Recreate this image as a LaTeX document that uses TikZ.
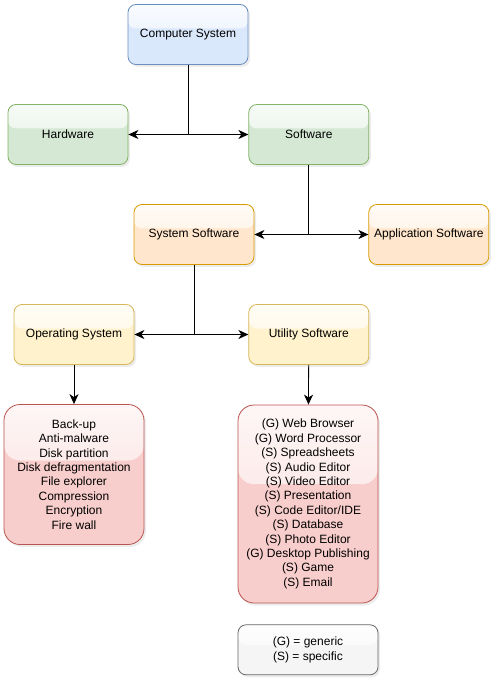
\documentclass[tikz,border=0pt]{standalone}
\usepackage{fontspec}
\setmainfont{Liberation Sans}
\usetikzlibrary{positioning,calc,shadows,arrows.meta}

\definecolor{blueFill}{HTML}{DAE8FC}\definecolor{blueLine}{HTML}{6C8EBF}
\definecolor{greenFill}{HTML}{D5E8D4}\definecolor{greenLine}{HTML}{82B366}
\definecolor{orangeFill}{HTML}{FFE6CC}\definecolor{orangeLine}{HTML}{D79B00}
\definecolor{yellowFill}{HTML}{FFF2CC}\definecolor{yellowLine}{HTML}{D6B656}
\definecolor{redFill}{HTML}{F8CECC}\definecolor{redLine}{HTML}{B85450}
\definecolor{greyFill}{HTML}{F5F5F5}\definecolor{greyLine}{HTML}{666666}

\tikzset{
    box/.style={rectangle, rounded corners=8pt, draw=#1Line, fill=#1Fill, line width=0.8pt,
        minimum width=120pt, minimum height=60pt, align=center,
        font=\fontsize{12pt}{14.4pt}\selectfont,
        drop shadow={opacity=0.15, shadow xshift=2pt, shadow yshift=-2.5pt},
        path picture={\shade[top color=#1Fill!18!white, bottom color=#1Fill!72!white]
            (path picture bounding box.north west) rectangle
            ($(path picture bounding box.north east)!0.4!(path picture bounding box.south east)$);}},
    list/.style={box=#1, rounded corners=16pt, minimum width=140pt},
    conn/.style={-{Stealth[length=10pt,width=9pt,inset=3pt]}, line width=0.8pt}
}

\begin{document}
\begin{tikzpicture}[x=1pt, y=-1pt]
    \useasboundingbox (0,0) rectangle (496,684);

    \node[box=blue] (cs) at (188,34.5) {Computer System};
    \node[box=green] (hw) at (68,134.5) {Hardware};
    \node[box=green, right=120pt of hw] (sw) {Software};
    \node[box=orange] (ss) at (194,234.5) {System Software};
    \node[box=orange, right=114pt of ss] (app) {Application Software};
    \node[box=yellow] (os) at (74,334.5) {Operating System};
    \node[box=yellow, right=114pt of os] (us) {Utility Software};

    \node[list=red, minimum height=140pt] (oslist) at (74,474.5)
        {Back-up\\Anti-malware\\Disk partition\\Disk defragmentation\\File explorer\\Compression\\Encryption\\Fire wall};
    \node[list=red, minimum height=198pt] (uslist) at (308,504)
        {(G) Web Browser\\(G) Word Processor\\(S) Spreadsheets\\(S) Audio Editor\\(S) Video Editor\\(S) Presentation\\(S) Code Editor/IDE\\(S) Database\\(S) Photo Editor\\(G) Desktop Publishing\\(S) Game\\(S) Email};
    \node[box=grey, minimum width=140pt, minimum height=50pt, below=21pt of uslist] (key)
        {(G) = generic\\(S) = specific};

    \draw[conn] (cs.south) |- (hw.east);
    \draw[conn] (cs.south) |- (sw.west);
    \draw[conn] (sw.south) |- (ss.east);
    \draw[conn] (sw.south) |- (app.west);
    \draw[conn] (ss.south) |- (os.east);
    \draw[conn] (ss.south) |- (us.west);
    \draw[conn] (os) -- (oslist);
    \draw[conn] (us) -- (uslist);
\end{tikzpicture}
\end{document}
